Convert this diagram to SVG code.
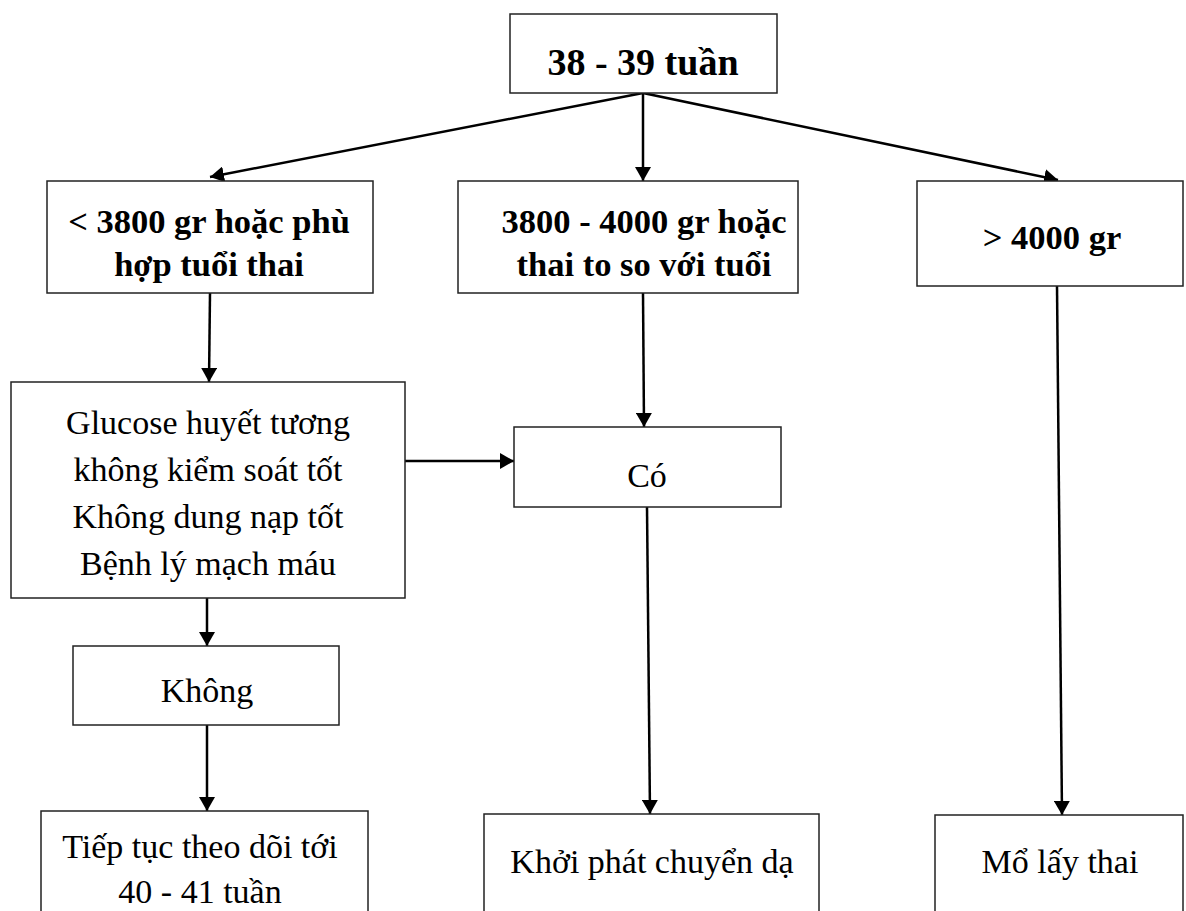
<svg xmlns="http://www.w3.org/2000/svg" width="1186" height="911" viewBox="0 0 1186 911">
<style>
.box{fill:#fff;stroke:#222;stroke-width:1.5}
.b{font-family:"Liberation Serif","Times New Roman",serif;font-weight:bold;font-size:34.5px;fill:#000;text-anchor:middle}
.r{font-family:"Liberation Serif","Times New Roman",serif;font-size:34px;fill:#000;text-anchor:middle}
.c{stroke:#000;stroke-width:2.5;fill:none;marker-end:url(#ah)}
</style>
<defs>
<marker id="ah" viewBox="0 0 14 16" refX="14" refY="8" markerWidth="14" markerHeight="16" markerUnits="userSpaceOnUse" orient="auto">
<path d="M0,0 L14,8 L0,16 z" fill="#000"/>
</marker>
</defs>
<rect width="1186" height="911" fill="#fff"/>
<g id="connectors">
<line class="c" x1="643" y1="93" x2="210" y2="177"/>
<line class="c" x1="643" y1="93" x2="643" y2="181"/>
<line class="c" x1="643" y1="93" x2="1058" y2="180"/>
<line class="c" x1="210" y1="293" x2="209" y2="382"/>
<line class="c" x1="643" y1="293" x2="644" y2="427"/>
<line class="c" x1="1057" y1="286" x2="1062" y2="815"/>
<line class="c" x1="405" y1="461" x2="514" y2="461"/>
<line class="c" x1="647" y1="507" x2="650" y2="814"/>
<line class="c" x1="207" y1="598" x2="207" y2="646"/>
<line class="c" x1="207" y1="725" x2="207" y2="811"/>
</g>
<g id="n-top">
<rect class="box" x="510" y="14" width="267" height="79"/>
<text class="b" x="643" y="75" style="font-size:38px">38 - 39 tuần</text>
</g>
<g id="n-lt3800">
<rect class="box" x="47" y="181" width="326" height="112"/>
<text class="b" x="209" y="233">&lt; 3800 gr hoặc phù</text>
<text class="b" x="209" y="276">hợp tuổi thai</text>
</g>
<g id="n-3800-4000">
<rect class="box" x="458" y="181" width="340" height="112"/>
<text class="b" x="644" y="233">3800 - 4000 gr hoặc</text>
<text class="b" x="644" y="276">thai to so với tuổi</text>
</g>
<g id="n-gt4000">
<rect class="box" x="917" y="181" width="266" height="105"/>
<text class="b" x="1052" y="249">&gt; 4000 gr</text>
</g>
<g id="n-glucose">
<rect class="box" x="11" y="382" width="394" height="216"/>
<text class="r" x="208" y="434">Glucose huyết tương</text>
<text class="r" x="208" y="481">không kiểm soát tốt</text>
<text class="r" x="208" y="528">Không dung nạp tốt</text>
<text class="r" x="208" y="575">Bệnh lý mạch máu</text>
</g>
<g id="n-co">
<rect class="box" x="514" y="427" width="267" height="80"/>
<text class="r" x="647" y="487">Có</text>
</g>
<g id="n-khong">
<rect class="box" x="73" y="646" width="266" height="79"/>
<text class="r" x="207" y="702">Không</text>
</g>
<g id="n-tiep">
<rect class="box" x="41" y="811" width="327" height="130"/>
<text class="r" x="200" y="858">Tiếp tục theo dõi tới</text>
<text class="r" x="200" y="903">40 - 41 tuần</text>
</g>
<g id="n-khoi">
<rect class="box" x="484" y="814" width="335" height="130"/>
<text class="r" x="652" y="873">Khởi phát chuyển dạ</text>
</g>
<g id="n-mo">
<rect class="box" x="935" y="815" width="248" height="130"/>
<text class="r" x="1060" y="873">Mổ lấy thai</text>
</g>
</svg>
